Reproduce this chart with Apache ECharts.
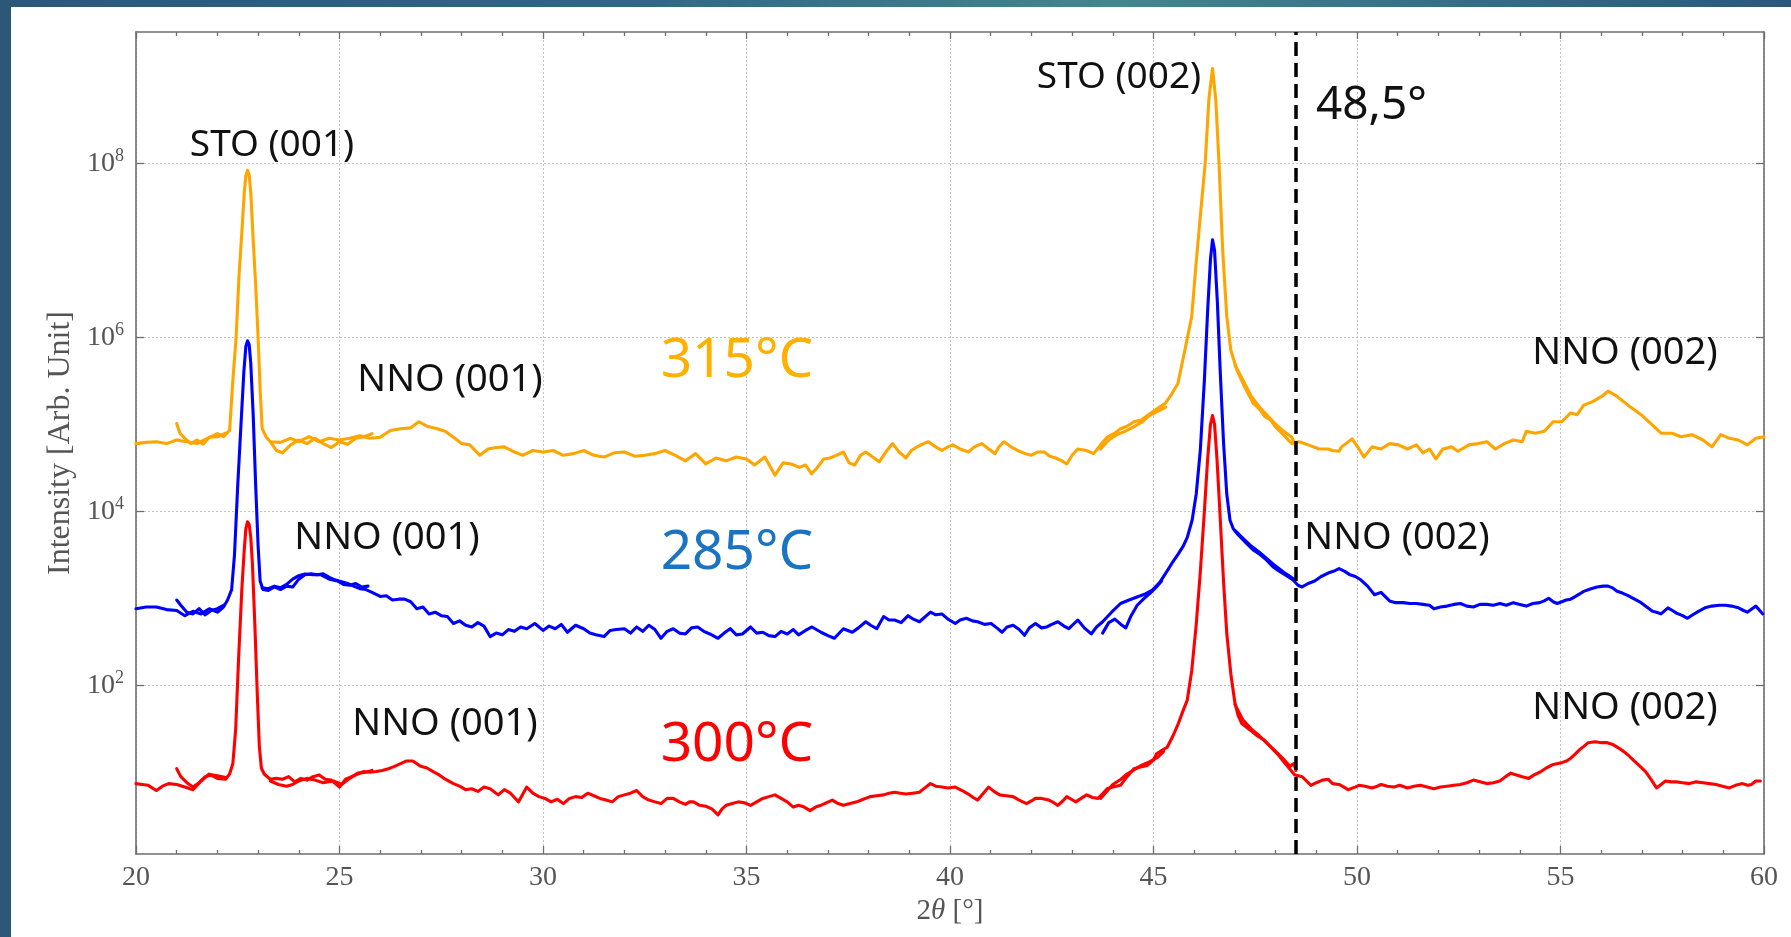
<!DOCTYPE html>
<html>
<head>
<meta charset="utf-8">
<script src="https://cdn.jsdelivr.net/npm/echarts@6/dist/echarts.min.js"></script>
<style>
  html, body { margin: 0; padding: 0; background: #ffffff; }
  #chart { width: 1791px; height: 937px; }
</style>
</head>
<body>
<div id="chart"></div>
<script>
// X-ray diffraction scans of NNO films on STO, 2theta in degrees vs intensity (arb. units).
// Each film has one full scan plus short repeated scan pieces (null = gap between pieces).

const scan315 = [
  [20.0,6.0e4],[20.25,6.2e4],[20.5,6.3e4],[20.75,6.0e4],[21.0,6.6e4],[21.25,6.3e4],[21.5,6.0e4],[21.75,6.9e4],
  [22.0,7.8e4],[22.15,7.2e4],[22.3,8.5e4],[22.38,3.2e5],[22.46,1.0e6],[22.53,5.0e6],[22.6,1.6e7],[22.66,4.6e7],
  [22.7,7.2e7],[22.74,8.3e7],[22.78,7.4e7],[22.82,4.6e7],[22.87,1.6e7],[22.94,4.0e6],[23.0,1.0e6],[23.05,2.5e5],
  [23.1,8.9e4],[23.2,7.1e4],
  [23.3,6.3e4],[23.55,6.2e4],[23.8,6.9e4],[24.0,6.3e4],[24.25,7.2e4],[24.5,6.3e4],[24.75,6.9e4],[25.0,6.6e4],
  [25.25,6.9e4],[25.5,7.4e4],[25.75,6.9e4],[26.0,7.1e4],[26.25,8.5e4],[26.5,8.9e4],[26.75,9.1e4],[26.95,1.07e5],
  [27.15,9.5e4],[27.4,8.9e4],[27.6,8.3e4],[27.8,7.1e4],[28.0,6.0e4],[28.2,5.8e4],[28.45,4.4e4],[28.65,5.2e4],
  [28.85,5.4e4],[29.05,5.5e4],[29.3,4.8e4],[29.5,4.4e4],[29.75,5.0e4],[30.0,4.8e4],[30.25,5.0e4],[30.5,4.4e4],
  [30.75,4.6e4],[31.0,5.0e4],[31.25,4.4e4],[31.5,4.2e4],[31.75,4.7e4],[32.0,4.8e4],[32.25,4.3e4],[32.5,4.4e4],
  [32.75,4.6e4],[33.0,5.0e4],[33.25,4.4e4],[33.5,3.8e4],[33.75,4.6e4],[34.0,3.5e4],[34.25,4.1e4],[34.5,3.8e4],
  [34.75,4.2e4],[35.0,4.0e4],[35.2,3.4e4],[35.45,4.2e4],[35.7,2.6e4],[35.9,3.6e4],[36.1,3.5e4],[36.3,3.2e4],
  [36.45,3.4e4],[36.6,2.7e4],[36.72,3.1e4],[36.9,4.0e4],[37.05,4.1e4],[37.21,4.4e4],[37.38,4.8e4],[37.52,3.6e4],
  [37.66,3.4e4],[37.8,4.4e4],[37.93,4.8e4],[38.1,4.2e4],[38.26,3.7e4],[38.45,5.0e4],[38.59,6.0e4],[38.75,4.8e4],
  [38.92,4.1e4],[39.05,5.0e4],[39.19,5.5e4],[39.35,6.0e4],[39.47,6.3e4],[39.65,5.5e4],[39.8,5.0e4],[39.95,5.5e4],
  [40.07,5.8e4],[40.25,5.2e4],[40.45,4.8e4],[40.6,5.5e4],[40.78,6.0e4],[40.95,5.2e4],[41.11,4.6e4],[41.2,5.5e4],
  [41.33,6.3e4],[41.5,5.5e4],[41.66,5.0e4],[41.85,4.6e4],[41.99,4.4e4],[42.15,4.8e4],[42.32,4.8e4],[42.45,4.3e4],
  [42.6,4.1e4],[42.75,3.8e4],[42.87,3.5e4],[43.0,4.4e4],[43.14,5.2e4],[43.35,5.0e4],[43.53,4.6e4],[43.7,5.8e4],
  [43.86,7.1e4],[44.05,7.9e4],[44.19,8.9e4],[44.35,9.5e4],[44.52,1.07e5],[44.7,1.12e5],[44.85,1.26e5],[45.0,1.41e5],
  [45.15,1.58e5],[45.29,1.74e5],[45.45,2.24e5],[45.6,2.95e5],[45.77,7.1e5],[45.94,1.74e6],[46.04,6.5e6],[46.15,2.45e7],
  [46.27,1.0e8],[46.36,5.4e8],[46.45,1.23e9],[46.53,5.4e8],[46.61,1.0e8],[46.7,1.0e7],[46.8,1.74e6],[46.9,7.1e5],
  [47.05,4.2e5],[47.24,2.7e5],[47.45,1.74e5],[47.6,1.51e5],[47.73,1.23e5],[47.88,1.12e5],[48.0,9.3e4],[48.21,7.4e4],
  [48.4,6.0e4],[48.58,6.3e4],[48.8,5.8e4],[49.07,5.2e4],[49.29,5.2e4],[49.4,5.0e4],[49.56,4.9e4],[49.62,5.5e4],
  [49.88,6.8e4],[50.05,5.2e4],[50.17,4.2e4],[50.37,5.5e4],[50.59,5.2e4],[50.8,6.0e4],[51.02,5.8e4],[51.24,5.2e4],
  [51.46,5.8e4],[51.62,4.7e4],[51.78,5.2e4],[51.94,4.0e4],[52.11,5.2e4],[52.32,5.5e4],[52.48,4.9e4],[52.75,5.8e4],
  [52.97,6.0e4],[53.19,6.3e4],[53.4,5.2e4],[53.62,6.0e4],[53.84,6.6e4],[54.06,6.3e4],[54.16,8.3e4],[54.38,7.9e4],
  [54.6,8.3e4],[54.82,1.07e5],[55.03,1.07e5],[55.25,1.35e5],[55.41,1.29e5],[55.57,1.66e5],[55.79,1.82e5],[56.01,2.09e5],
  [56.17,2.4e5],[56.39,2.09e5],[56.66,1.66e5],[56.98,1.29e5],[57.26,9.8e4],[57.47,7.9e4],[57.74,7.9e4],[57.96,7.2e4],
  [58.23,7.6e4],[58.5,6.6e4],[58.72,5.5e4],[58.94,7.6e4],[59.15,6.9e4],[59.37,6.6e4],[59.59,5.8e4],[59.8,6.9e4],
  [60.0,7.2e4]
];
const repeat315 = [
  [21.0,1.02e5],[21.08,7.9e4],[21.2,6.9e4],[21.35,6.0e4],[21.5,6.6e4],[21.65,5.9e4],[21.8,7.1e4],[22.0,7.2e4],[22.2,7.9e4],
  [22.25,null],
  [23.3,6.3e4],[23.45,5.0e4],[23.6,4.7e4],[23.8,5.8e4],[24.0,6.6e4],[24.2,6.0e4],[24.4,6.9e4],[24.6,6.0e4],[24.8,5.4e4],
  [25.0,6.3e4],[25.2,5.9e4],[25.4,6.9e4],[25.6,7.2e4],[25.8,7.8e4],
  [25.9,null],
  [43.7,5.2e4],[43.9,6.6e4],[44.1,7.6e4],[44.3,8.3e4],[44.5,9.3e4],[44.7,1.05e5],[44.9,1.26e5],[45.1,1.41e5],[45.3,1.58e5],
  [45.4,null],
  [47.0,4.8e5],[47.2,3.2e5],[47.4,2.1e5],[47.6,1.58e5],[47.8,1.26e5],[48.0,1.0e5],[48.2,8.3e4],[48.4,7.1e4],[48.5,5.5e4]
];

const scan285 = [
  [20.0,759],[20.25,794],[20.5,794],[20.75,741],[21.0,724],[21.2,631],[21.4,708],[21.6,661],[21.8,759],[22.0,692],
  [22.15,794],[22.25,955],[22.35,1259],[22.42,3162],[22.5,2.0e4],[22.58,1.0e5],[22.65,4.0e5],[22.7,7.9e5],[22.74,9.1e5],
  [22.78,8.3e5],[22.82,5.0e5],[22.88,1.26e5],[22.94,2.0e4],[23.0,4.0e3],[23.05,1.58e3],[23.12,1.26e3],[23.25,1.23e3],[23.4,1.35e3],
  [23.55,1.26e3],[23.7,1.38e3],[23.85,1.35e3],[24.0,1.66e3],[24.15,1.86e3],[24.3,1.91e3],[24.45,1.86e3],[24.6,1.91e3],
  [24.75,1.74e3],[24.9,1.62e3],[25.05,1.55e3],[25.2,1.48e3],[25.35,1.38e3],[25.5,1.29e3],[25.65,1.26e3],[25.8,1.17e3],
  [26.0,1.05e3],[26.15,1.07e3],[26.3,955],[26.45,977],[26.6,977],[26.75,912],[26.9,759],[27.05,794],[27.2,661],
  [27.35,692],[27.5,631],[27.65,617],[27.8,513],[27.95,550],[28.1,490],[28.25,468],[28.4,525],[28.55,479],[28.7,363],
  [28.85,398],[29.0,380],[29.15,437],[29.3,417],[29.45,468],[29.6,447],[29.8,513],[30.0,427],[30.15,479],[30.3,447],
  [30.45,501],[30.6,407],[30.8,490],[31.0,447],[31.15,398],[31.3,380],[31.5,363],[31.65,427],[31.8,437],[32.0,447],
  [32.15,398],[32.3,468],[32.45,417],[32.6,490],[32.75,437],[32.9,347],[33.05,417],[33.2,447],[33.35,398],[33.5,389],
  [33.65,457],[33.8,468],[33.95,417],[34.1,389],[34.3,347],[34.45,398],[34.6,447],[34.75,380],[34.9,389],[35.1,468],
  [35.25,398],[35.4,407],[35.55,372],[35.7,363],[35.85,417],[36.0,389],[36.15,437],[36.28,380],[36.45,427],[36.61,468],
  [36.83,407],[37.0,372],[37.16,347],[37.38,447],[37.6,407],[37.75,457],[37.93,537],[38.05,490],[38.2,447],[38.37,617],
  [38.5,562],[38.64,562],[38.8,525],[38.97,631],[39.1,575],[39.25,537],[39.52,692],[39.65,646],[39.8,661],[39.95,575],
  [40.13,513],[40.25,562],[40.4,589],[40.55,550],[40.68,537],[40.85,501],[41.01,513],[41.15,457],[41.28,407],[41.4,468],
  [41.55,490],[41.7,437],[41.83,376],[41.95,457],[42.1,513],[42.25,457],[42.38,468],[42.5,501],[42.65,537],[42.8,479],
  [42.92,447],[43.05,513],[43.14,562],[43.3,457],[43.47,389],[43.6,468],[43.75,537],[43.97,692],[44.19,871],[44.4,955],
  [44.63,1047],[44.8,1122],[44.96,1230],[45.15,1514],[45.29,1905],[45.45,2512],[45.61,3236],[45.73,3981],[45.83,5012],
  [45.95,7943],[46.05,1.58e4],[46.15,5.0e4],[46.25,3.2e5],[46.33,2.0e6],[46.4,7.9e6],[46.45,1.32e7],[46.5,1.0e7],
  [46.57,2.5e6],[46.64,4.0e5],[46.72,6.3e4],[46.8,1.58e4],[46.88,7.9e3],[46.96,6.3e3],[47.06,5.5e3],[47.18,4.8e3],
  [47.28,4.3e3],[47.45,3.6e3],[47.61,3.2e3],[47.78,2.75e3],[47.94,2.29e3],[48.1,2.04e3],[48.27,1.82e3],[48.43,1.62e3],
  [48.55,1.41e3],[48.65,1.35e3],[48.8,1.48e3],[48.96,1.58e3],[49.12,1.78e3],[49.29,1.95e3],[49.42,2.04e3],[49.56,2.19e3],
  [49.7,2.04e3],[49.83,1.86e3],[49.96,1.78e3],[50.1,1.62e3],[50.26,1.38e3],[50.43,1.10e3],[50.59,1.17e3],[50.8,933],
  [50.95,891],[51.13,891],[51.3,871],[51.46,871],[51.62,851],[51.78,832],[51.89,759],[52.05,794],[52.21,813],[52.38,851],
  [52.54,871],[52.7,813],[52.86,794],[53.02,851],[53.19,851],[53.35,832],[53.51,871],[53.67,832],[53.84,891],[54.0,851],
  [54.16,813],[54.32,871],[54.49,891],[54.6,933],[54.71,1000],[54.82,912],[54.92,871],[55.03,912],[55.14,955],[55.25,977],
  [55.36,1047],[55.47,1122],[55.57,1202],[55.75,1288],[55.9,1349],[56.05,1380],[56.17,1380],[56.28,1318],[56.39,1202],
  [56.52,1148],[56.66,1072],[56.82,977],[56.98,891],[57.12,794],[57.26,708],[57.36,692],[57.47,661],[57.64,776],
  [57.75,724],[57.85,676],[58.0,631],[58.12,589],[58.25,646],[58.39,708],[58.55,776],[58.72,813],[58.9,832],[59.05,832],
  [59.2,813],[59.37,776],[59.5,724],[59.59,692],[59.8,813],[59.97,661]
];
const repeat285 = [
  [21.0,955],[21.1,832],[21.25,692],[21.4,661],[21.55,759],[21.7,646],[21.85,724],[22.0,759],[22.15,832],
  [22.2,null],
  [23.1,1318],[23.25,1288],[23.4,1380],[23.55,1318],[23.7,1445],[23.85,1660],[24.0,1820],[24.15,1905],[24.35,1862],
  [24.55,1862],[24.75,1660],[24.95,1585],[25.1,1445],[25.25,1413],[25.4,1479],[25.55,1349],[25.7,1380],
  [25.8,null],
  [43.75,398],[43.9,525],[44.05,575],[44.2,501],[44.32,457],[44.45,631],[44.6,832],[44.75,977],[44.9,1122],[45.05,1318],[45.2,1585],
  [45.3,null],
  [47.0,6026],[47.2,4898],[47.4,3981],[47.6,3388],[47.8,2818],[48.0,2344],[48.2,1995],[48.45,1660]
];

const scan300 = [
  [20.0,7.41],[20.15,7.24],[20.3,7.08],[20.5,6.17],[20.65,6.92],[20.8,7.41],[21.0,7.24],[21.2,6.76],[21.4,6.31],[21.6,7.94],
  [21.8,9.55],[22.0,8.51],[22.2,8.32],[22.3,9.55],[22.38,12.6],[22.45,31.6],[22.52,200],[22.6,1259],[22.66,3630],
  [22.7,6310],[22.74,7586],[22.78,7079],[22.82,5012],[22.86,2512],[22.92,501],[22.98,79.4],[23.03,20.0],[23.08,11.2],[23.15,9.55],
  [23.3,8.32],[23.45,8.51],[23.6,8.32],[23.75,8.91],[23.9,7.76],[24.05,8.51],[24.2,8.13],[24.35,8.91],[24.5,9.33],
  [24.65,8.32],[24.8,8.13],[25.0,6.76],[25.15,8.32],[25.3,8.91],[25.45,9.55],[25.6,10.2],[25.75,10.0],[25.9,10.2],
  [26.05,10.5],[26.2,11.0],[26.35,11.7],[26.5,12.6],[26.65,13.5],[26.8,13.5],[27.0,11.7],[27.15,11.2],[27.3,10.2],
  [27.45,9.33],[27.6,8.32],[27.8,7.41],[27.95,6.92],[28.1,6.31],[28.25,6.46],[28.4,6.03],[28.55,6.76],[28.7,6.46],
  [28.9,5.50],[29.05,6.31],[29.2,5.75],[29.4,4.57],[29.6,6.76],[29.75,5.75],[29.9,5.25],[30.05,5.01],[30.2,4.57],
  [30.35,4.90],[30.5,4.37],[30.65,5.01],[30.8,5.25],[30.95,5.13],[31.1,5.75],[31.25,5.37],[31.4,5.01],[31.55,4.79],
  [31.7,4.57],[31.85,5.25],[32.0,5.50],[32.15,5.75],[32.3,6.17],[32.45,5.25],[32.6,4.79],[32.75,4.57],[32.9,4.37],
  [33.05,5.01],[33.2,5.01],[33.35,4.57],[33.5,4.27],[33.6,4.57],[33.7,4.57],[33.85,4.17],[34.0,4.07],[34.15,3.80],
  [34.3,3.24],[34.4,3.80],[34.5,4.17],[34.65,4.37],[34.8,4.57],[34.95,4.47],[35.1,4.17],[35.25,4.57],[35.4,5.01],
  [35.55,5.25],[35.7,5.50],[35.85,5.01],[36.0,4.57],[36.15,3.98],[36.28,4.17],[36.42,3.98],[36.56,3.63],[36.7,3.98],
  [36.83,4.17],[36.97,4.47],[37.11,4.79],[37.25,4.37],[37.38,4.17],[37.55,4.37],[37.71,4.57],[37.87,4.90],[38.04,5.25],
  [38.2,5.37],[38.37,5.50],[38.5,5.75],[38.64,5.89],[38.78,5.75],[38.92,5.62],[39.08,5.75],[39.25,5.89],[39.38,6.61],
  [39.52,7.41],[39.65,6.92],[39.8,6.76],[39.95,6.61],[40.13,6.76],[40.3,6.17],[40.45,5.62],[40.57,5.13],[40.68,4.79],
  [40.82,5.75],[40.95,6.76],[41.08,6.03],[41.22,5.50],[41.38,5.37],[41.55,5.25],[41.7,4.79],[41.88,4.37],[42.0,4.68],
  [42.1,5.01],[42.25,5.01],[42.43,4.79],[42.55,4.47],[42.65,4.17],[42.77,4.68],[42.87,5.25],[42.98,4.90],[43.09,4.57],
  [43.22,5.01],[43.36,5.50],[43.5,5.13],[43.64,5.01],[43.76,5.75],[43.86,6.46],[44.0,6.76],[44.19,7.08],[44.35,8.91],
  [44.52,11.0],[44.68,11.5],[44.85,12.0],[45.0,13.8],[45.07,16.2],[45.2,17.8],[45.34,19.5],[45.48,26.3],[45.61,36.3],
  [45.72,50.1],[45.83,67.6],[45.94,148],[46.05,501],[46.15,2000],[46.25,1.0e4],[46.33,3.98e4],[46.4,1.0e5],[46.45,1.26e5],
  [46.5,1.0e5],[46.56,3.98e4],[46.63,1.0e4],[46.72,1585],[46.8,398],[46.9,135],[47.0,63.1],[47.08,44.7],[47.17,36.3],
  [47.28,33.1],[47.39,30.2],[47.55,26.3],[47.72,23.4],[47.88,19.5],[48.05,16.2],[48.2,13.2],[48.38,10.5],[48.47,9.33],
  [48.56,9.12],[48.65,8.91],[48.76,7.94],[48.87,7.08],[49.0,7.59],[49.15,8.13],[49.29,8.32],[49.4,7.41],[49.56,7.24],
  [49.68,6.76],[49.78,6.31],[49.95,6.76],[50.05,7.08],[50.2,6.92],[50.37,6.61],[50.5,6.92],[50.59,7.24],[50.75,6.92],
  [50.91,6.76],[51.05,7.08],[51.24,6.61],[51.4,6.92],[51.56,7.08],[51.72,6.76],[51.89,6.46],[52.05,6.76],[52.21,6.92],
  [52.38,7.08],[52.54,7.24],[52.7,7.59],[52.86,8.13],[53.02,7.76],[53.19,7.41],[53.35,7.59],[53.51,7.94],[53.65,8.91],
  [53.78,9.77],[53.92,9.33],[54.06,8.91],[54.22,8.51],[54.35,9.33],[54.49,10.0],[54.65,11.2],[54.82,12.3],[55.03,12.9],
  [55.15,13.5],[55.25,14.5],[55.36,16.2],[55.47,18.2],[55.58,20.0],[55.68,21.9],[55.85,22.4],[56.01,21.9],[56.15,21.9],
  [56.28,20.9],[56.42,19.1],[56.55,17.4],[56.66,15.8],[56.77,14.1],[56.93,12.0],[57.09,10.2],[57.22,8.32],[57.36,6.61],
  [57.47,7.24],[57.58,7.94],[57.72,7.76],[57.85,7.76],[58.0,7.59],[58.17,7.41],[58.33,7.76],[58.5,7.59],[58.66,7.41],
  [58.82,7.24],[58.98,6.92],[59.15,6.61],[59.3,7.08],[59.47,7.41],[59.6,7.08],[59.69,7.24],[59.8,7.94],[59.91,7.94]
];
const repeat300 = [
  [21.0,11.0],[21.1,8.91],[21.25,7.59],[21.4,6.76],[21.55,7.59],[21.7,8.91],[21.85,9.33],[22.0,9.12],[22.2,8.71],
  [22.25,null],
  [23.3,7.94],[23.5,7.24],[23.7,6.92],[23.85,7.24],[24.0,7.94],[24.2,8.51],[24.4,8.13],[24.6,7.59],[24.85,7.94],
  [25.05,7.24],[25.25,8.51],[25.45,9.77],[25.65,10.0],[25.8,10.5],
  [25.9,null],
  [43.7,5.01],[43.85,6.03],[44.0,7.24],[44.2,8.32],[44.35,9.55],[44.5,10.5],[44.7,12.0],[44.9,13.2],[45.1,14.8],[45.25,17.4],
  [45.35,null],
  [47.0,60.3],[47.2,39.8],[47.4,31.6],[47.6,26.3],[47.8,21.4],[48.0,17.4],[48.2,14.1],[48.35,11.7],[48.45,12.6],[48.5,10.5]
];

// axis ranges and ticks
const angleRange = [20, 60];
const angleStep = 5;
const intensityRange = [1.15, 3.23e9];
const intensityTicks = [1e2, 1e4, 1e6, 1e8];
const markerAngle = 48.5;

const SERIF = '"Liberation Serif", "DejaVu Serif", serif';
const SANS = '"Noto Sans", "Open Sans", sans-serif';
const AXIS_GREY = '#6f6f6f';
const TEXT_GREY = '#555555';
const GRID_GREY = '#c4c4c4';

const chart = echarts.init(document.getElementById('chart'), null, { renderer: 'canvas' });

const frameLine = { show: true, onZero: false, lineStyle: { color: AXIS_GREY, width: 1.6 } };
const tickStyle = { color: AXIS_GREY, width: 1.3 };

function curve(name, data, color) {
  return {
    name: name,
    type: 'line',
    data: data,
    xAxisIndex: 0,
    yAxisIndex: 0,
    showSymbol: false,
    symbol: 'none',
    connectNulls: false,
    silent: true,
    animation: false,
    lineStyle: { color: color, width: 3.1, join: 'round', cap: 'round' },
    itemStyle: { color: color },
    z: 3
  };
}

const label = (text, x, y, size, color, align) => ({
  type: 'text',
  x: x, y: y,
  z: 50,
  style: {
    text: text,
    fill: color || '#111111',
    font: 'normal ' + size + 'px ' + SANS,
    textAlign: align || 'center',
    textVerticalAlign: 'middle'
  }
});

const supLabel = v => '{b|10}{s|' + Math.round(Math.log10(v)) + '}';

const option = {
  backgroundColor: '#ffffff',
  animation: false,
  grid: {
    left: 136, right: 27, top: 32, bottom: 83,
    containLabel: false,
    outerBoundsMode: 'none',
    show: false
  },
  xAxis: [
    {
      type: 'value', position: 'bottom',
      min: angleRange[0], max: angleRange[1], interval: angleStep,
      axisLine: frameLine,
      axisTick: { show: true, inside: true, length: 8, lineStyle: tickStyle },
      minorTick: { show: true, splitNumber: 5, length: 4, lineStyle: tickStyle },
      axisLabel: { show: true, margin: 10, color: TEXT_GREY, fontFamily: SERIF, fontSize: 28 },
      splitLine: { show: true, lineStyle: { color: GRID_GREY, width: 1, type: [2, 2] } },
      name: '{n|2}{i|θ}{n| [°]}',
      nameLocation: 'middle',
      nameGap: 41,
      nameTextStyle: {
        rich: {
          n: { fontFamily: SERIF, fontSize: 29, color: TEXT_GREY },
          i: { fontFamily: SERIF, fontSize: 29, color: TEXT_GREY, fontStyle: 'italic' }
        }
      }
    },
    {
      type: 'value', position: 'top',
      min: angleRange[0], max: angleRange[1], interval: angleStep,
      axisLine: frameLine,
      axisTick: { show: true, inside: true, length: 7, lineStyle: tickStyle },
      minorTick: { show: true, splitNumber: 5, length: 4, lineStyle: tickStyle },
      axisLabel: { show: false },
      splitLine: { show: false }
    }
  ],
  yAxis: [
    {
      type: 'log', logBase: 10, position: 'left',
      min: intensityRange[0], max: intensityRange[1],
      axisLine: frameLine,
      axisTick: { show: true, inside: true, length: 8, lineStyle: tickStyle, customValues: intensityTicks },
      minorTick: { show: false },
      axisLabel: {
        show: true, margin: 12, customValues: intensityTicks,
        formatter: supLabel,
        rich: {
          b: { fontFamily: SERIF, fontSize: 28, color: TEXT_GREY },
          s: { fontFamily: SERIF, fontSize: 18, color: TEXT_GREY, padding: [0, 0, 15, 0] }
        }
      },
      splitLine: { show: true, lineStyle: { color: GRID_GREY, width: 1, type: [2, 2] } },
      name: 'Intensity [Arb. Unit]',
      nameLocation: 'middle',
      nameGap: 58,
      nameRotate: 90,
      nameTextStyle: { fontFamily: SERIF, fontSize: 32, color: TEXT_GREY }
    },
    {
      type: 'log', logBase: 10, position: 'right',
      min: intensityRange[0], max: intensityRange[1],
      axisLine: frameLine,
      axisTick: { show: true, inside: true, length: 8, lineStyle: tickStyle, customValues: intensityTicks },
      minorTick: { show: false },
      axisLabel: { show: false },
      splitLine: { show: false }
    }
  ],
  series: [
    curve('315 °C', scan315, '#ffa500'),
    curve('315 °C repeat', repeat315, '#ffa500'),
    curve('285 °C', scan285, '#0000ff'),
    curve('285 °C repeat', repeat285, '#0000ff'),
    Object.assign(curve('300 °C', scan300, '#ff0000'), {
      markLine: {
        silent: true,
        symbol: ['none', 'none'],
        label: { show: false },
        animation: false,
        z: 20,
        lineStyle: { color: '#000000', width: 3.5, type: [14, 7] },
        data: [{ xAxis: markerAngle }]
      }
    }),
    curve('300 °C repeat', repeat300, '#ff0000')
  ],
  graphic: [
    // slide frame bands
    {
      type: 'rect', z: 100, silent: true,
      shape: { x: 0, y: 0, width: 1791, height: 7 },
      style: {
        fill: new echarts.graphic.LinearGradient(0, 0, 1, 0, [
          { offset: 0, color: '#2b587b' },
          { offset: 0.35, color: '#2f6785' },
          { offset: 0.62, color: '#41878f' },
          { offset: 0.82, color: '#346e86' },
          { offset: 1, color: '#2b587b' }
        ])
      }
    },
    {
      type: 'rect', z: 100, silent: true,
      shape: { x: 0, y: 0, width: 11, height: 937 },
      style: { fill: '#2b5779' }
    },
    label('STO (001)', 272, 145, 37),
    label('STO (002)', 1119, 77, 37),
    label('48,5°', 1316, 106, 46, '#111111', 'left'),
    label('NNO (001)', 450, 380, 38),
    label('NNO (001)', 387, 538, 38),
    label('NNO (001)', 445, 724, 38),
    label('NNO (002)', 1625, 353, 38),
    label('NNO (002)', 1397, 538, 38),
    label('NNO (002)', 1625, 708, 38),
    label('315°C', 737, 361, 55, '#ffb000'),
    label('285°C', 737, 553, 55, '#1a74c2'),
    label('300°C', 737, 745, 55, '#ff0000')
  ]
};

chart.setOption(option);
</script>
</body>
</html>
